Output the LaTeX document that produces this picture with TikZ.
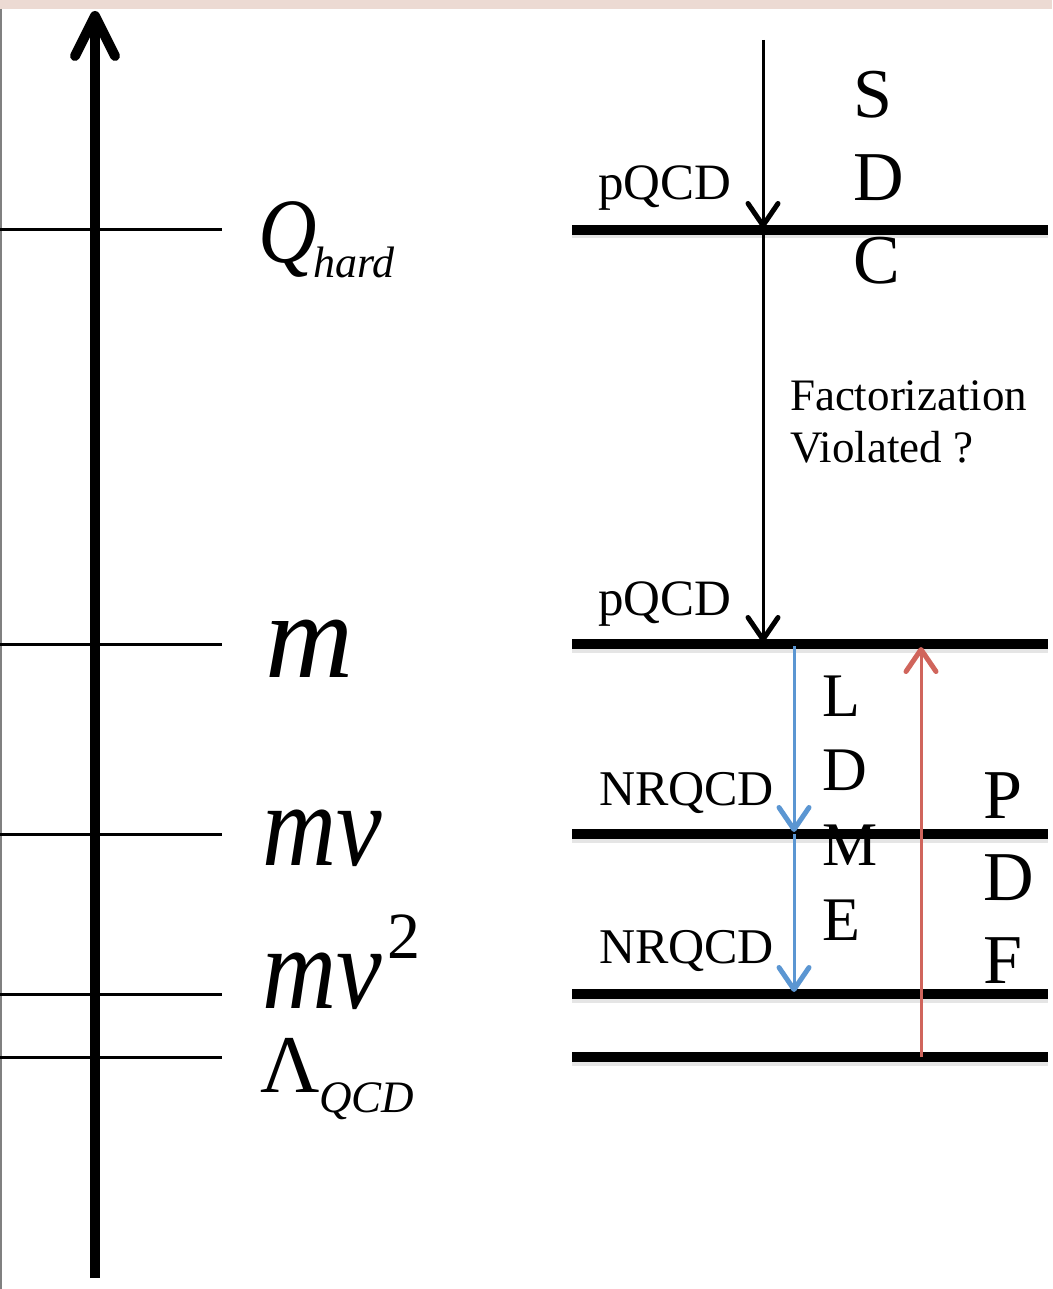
\documentclass[tikz,border=0pt]{standalone}
\usepackage{fontspec}
\setmainfont{Liberation Serif}
\usetikzlibrary{arrows.meta}
\definecolor{pinkbar}{RGB}{236,218,211}
\definecolor{ablue}{RGB}{91,150,210}
\definecolor{ared}{RGB}{208,101,92}
\newcommand{\fsz}[1]{\fontsize{#1pt}{#1pt}\selectfont}
\begin{document}
\begin{tikzpicture}[x=1pt,y=-1pt,
  thinlvl/.style={line width=3pt},
  thicklvl/.style={line width=10pt},
  shadowlvl/.style={line width=7pt, black!10},
  flow/.style={line width=3pt, -{Straight Barb[length=22pt,width=30pt,line width=5pt,round]}},
  lbl/.style={anchor=base west, inner sep=0pt, outer sep=0pt},
]
\useasboundingbox (0,0) rectangle (1052,1289);
\fill[pinkbar] (0,0) rectangle (1052,9);
\draw[gray, line width=2pt] (1,9) -- (1,1289);

% left axis
\coordinate (axbot) at (95,1278);
\coordinate (axtop) at (95,11);
\draw[line width=10pt, -{Straight Barb[length=40pt,width=40pt,line width=10pt,round]}] (axbot) -- (axtop);

% level lines
\foreach \y/\n in {230/1,644/2,834/3,994/4,1057/5}{
  \coordinate (la\n) at (0,\y);
  \coordinate (lb\n) at (222,\y);
  \draw[thinlvl] (la\n) -- (lb\n);
  \coordinate (ra\n) at (572,\y);
  \coordinate (rb\n) at (1048,\y);
  \draw[shadowlvl] ([yshift=-5pt]ra\n) -- ([yshift=-5pt]rb\n);
  \draw[thicklvl] (ra\n) -- (rb\n);
}

% left labels
\node[lbl] (qhard) at (258,262) {\scalebox{0.88}[1]{\fsz{92}\itshape Q}\kern-3pt\raisebox{-15pt}{\fsz{44}\itshape hard}};
\node[lbl] (mm) at (265,677) {\fsz{122}\itshape m};
\node[lbl] (mv) at (262,865) {\scalebox{0.87}[1]{\fsz{118}\itshape mv}};
\node[lbl] (mv2) at (262,1008) {\scalebox{0.87}[1]{\fsz{118}\itshape mv}\kern6pt\raisebox{50pt}{\fsz{66}2}};
\node[lbl] (lam) at (260,1092) {\fsz{82}Λ\raisebox{-20pt}{\fsz{45}\itshape QCD}};

% black pQCD arrows
\coordinate (ps) at (763,40);
\coordinate (pq) at (763,228);
\coordinate (pqs) at (763,230);
\coordinate (pm) at (763,642);
\draw[flow] (ps) -- (pq);
\draw[flow] (pqs) -- (pm);

% blue LDME arrows
\coordinate (bs) at (794,646);
\coordinate (bm) at (794,832);
\coordinate (bms) at (794,834);
\coordinate (be) at (794,992);
\draw[flow, ablue] (bs) -- (bm);
\draw[flow, ablue] (bms) -- (be);

% red PDF arrow
\coordinate (rs) at (921,1057);
\coordinate (re) at (921,647);
\draw[flow, ared] (rs) -- (re);

% right labels
\node[lbl] (pqcd1) at (598,200) {\fsz{51}pQCD};
\node[lbl] (pqcd2) at (598,615) {\fsz{51}pQCD};
\node[lbl] (nr1) at (599,805) {\fsz{50}NRQCD};
\node[lbl] (nr2) at (599,963) {\fsz{50}NRQCD};

\node[lbl] (s1) at (853,118) {\fsz{70}S};
\node[lbl] (s2) at (853,201) {\fsz{70}D};
\node[lbl] (s3) at (853,283) {\fsz{70}C};

\node[lbl] (fac1) at (790,410) {\fsz{45}Factorization};
\node[lbl] (fac2) at (790,462) {\fsz{45}Violated ?};

\node[lbl] (l1) at (822,716) {\fsz{62}L};
\node[lbl] (l2) at (822,790) {\fsz{62}D};
\node[lbl] (l3) at (822,865) {\fsz{62}M};
\node[lbl] (l4) at (822,940) {\fsz{62}E};

\node[lbl] (p1) at (983,818) {\fsz{70}P};
\node[lbl] (p2) at (983,900) {\fsz{70}D};
\node[lbl] (p3) at (983,983) {\fsz{70}F};
\end{tikzpicture}
\end{document}
